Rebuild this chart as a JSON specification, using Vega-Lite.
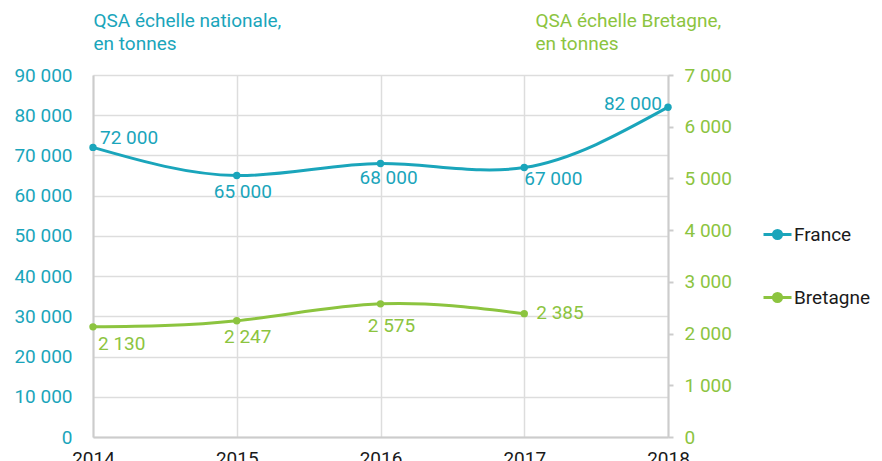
{
  "$schema": "https://vega.github.io/schema/vega-lite/v6.json",
  "width": 575,
  "height": 362,
  "autosize": "none",
  "padding": {"left": 93, "top": 75, "right": 214, "bottom": 24},
  "background": "white",
  "config": {
    "locale": {"number": {"decimal": ",", "thousands": " ", "grouping": [3], "currency": ["", " €"]}},
    "font": "Roboto",
    "view": {"stroke": null},
    "axis": {
      "labelFont": "Roboto", "titleFont": "Roboto", "labelFontSize": 19, "titleFontSize": 19,
      "titleFontWeight": "normal", "domainColor": "#cccccc", "domainWidth": 2,
      "gridColor": "#dddddd", "gridWidth": 1.5, "tickColor": "#cccccc", "tickWidth": 2
    },
    "text": {"font": "Roboto", "fontSize": 19, "baseline": "middle"}
  },
  "data": {"values": [
    {"year": 2014, "series": "France", "value": 72000},
    {"year": 2015, "series": "France", "value": 65000},
    {"year": 2016, "series": "France", "value": 68000},
    {"year": 2017, "series": "France", "value": 67000},
    {"year": 2018, "series": "France", "value": 82000},
    {"year": 2014, "series": "Bretagne", "value": 2130},
    {"year": 2015, "series": "Bretagne", "value": 2247},
    {"year": 2016, "series": "Bretagne", "value": 2575},
    {"year": 2017, "series": "Bretagne", "value": 2385}
  ]},
  "encoding": {
    "x": {"field": "year", "type": "quantitative", "scale": {"domain": [2014, 2018], "nice": false},
      "axis": {"values": [2014, 2015, 2016, 2017, 2018], "format": "d", "title": null, "ticks": false,
        "grid": true, "labelColor": "#1a1a1a", "labelPadding": 12, "labelBaseline": "top", "labelFlush": false}}
  },
  "layer": [
    {
      "transform": [{"filter": "datum.series === 'France'"}],
      "encoding": {
        "y": {"field": "value", "type": "quantitative", "scale": {"domain": [0, 90000], "nice": false},
          "axis": {"orient": "left", "values": [0, 10000, 20000, 30000, 40000, 50000, 60000, 70000, 80000, 90000],
            "format": ",d", "grid": true, "ticks": false, "labelPadding": 21, "labelColor": "#1aa5bb",
            "title": ["QSA échelle nationale,", "en tonnes"], "titleColor": "#1aa5bb", "titleAngle": 0,
            "titleAlign": "left", "titleBaseline": "alphabetic", "titleX": 0, "titleY": -49, "titleLineHeight": 23}}
      },
      "layer": [
        {"mark": {"type": "line", "interpolate": "natural", "strokeWidth": 3},
          "encoding": {"color": {"field": "series", "type": "nominal",
            "scale": {"domain": ["France", "Bretagne"], "range": ["#1aa5bb", "#8cc43f"]},
            "legend": {"orient": "none", "legendX": 669, "legendY": 144, "title": null, "padding": 0,
              "symbolType": "M-1,0L1,0M0.29,0A0.29,0.29,0,1,1,-0.29,0A0.29,0.29,0,1,1,0.29,0Z",
              "symbolSize": 784, "symbolStrokeWidth": 3, "labelFont": "Roboto", "labelFontSize": 19,
              "labelColor": "#1a1a1a", "rowPadding": 37, "labelOffset": 1,
              "encode": {"symbols": {"update": {"fill": {"scale": "color", "field": "value"}, "stroke": {"scale": "color", "field": "value"}}}}}}}},
        {"mark": {"type": "point", "filled": true, "size": 55, "opacity": 1, "color": "#1aa5bb"}},
        {"transform": [{"filter": "datum.year === 2014"}],
          "mark": {"type": "text", "align": "left", "dx": 7, "dy": -9, "color": "#1aa5bb"},
          "encoding": {"text": {"field": "value", "type": "quantitative", "format": ",d"}}},
        {"transform": [{"filter": "datum.year === 2015"}],
          "mark": {"type": "text", "align": "center", "dx": 6, "dy": 16, "color": "#1aa5bb"},
          "encoding": {"text": {"field": "value", "type": "quantitative", "format": ",d"}}},
        {"transform": [{"filter": "datum.year === 2016"}],
          "mark": {"type": "text", "align": "center", "dx": 8, "dy": 15, "color": "#1aa5bb"},
          "encoding": {"text": {"field": "value", "type": "quantitative", "format": ",d"}}},
        {"transform": [{"filter": "datum.year === 2017"}],
          "mark": {"type": "text", "align": "left", "dx": 0, "dy": 11, "color": "#1aa5bb"},
          "encoding": {"text": {"field": "value", "type": "quantitative", "format": ",d"}}},
        {"transform": [{"filter": "datum.year === 2018"}],
          "mark": {"type": "text", "align": "right", "dx": -6, "dy": -3, "color": "#1aa5bb"},
          "encoding": {"text": {"field": "value", "type": "quantitative", "format": ",d"}}}
      ]
    },
    {
      "transform": [{"filter": "datum.series === 'Bretagne'"}],
      "encoding": {
        "y": {"field": "value", "type": "quantitative", "scale": {"domain": [0, 7000], "nice": false},
          "axis": {"orient": "right", "values": [0, 1000, 2000, 3000, 4000, 5000, 6000, 7000],
            "format": ",d", "grid": false, "ticks": true, "tickSize": 5, "labelPadding": 11, "labelColor": "#8cc43f",
            "title": ["QSA échelle Bretagne,", "en tonnes"], "titleColor": "#8cc43f", "titleAngle": 0,
            "titleAlign": "left", "titleBaseline": "alphabetic", "titleX": -133, "titleY": -49, "titleLineHeight": 23}}
      },
      "layer": [
        {"mark": {"type": "line", "interpolate": "natural", "strokeWidth": 3},
          "encoding": {"color": {"field": "series", "type": "nominal"}}},
        {"mark": {"type": "point", "filled": true, "size": 55, "opacity": 1, "color": "#8cc43f"}},
        {"transform": [{"filter": "datum.year === 2014"}],
          "mark": {"type": "text", "align": "left", "dx": 5, "dy": 17, "color": "#8cc43f"},
          "encoding": {"text": {"field": "value", "type": "quantitative", "format": ",d"}}},
        {"transform": [{"filter": "datum.year === 2015"}],
          "mark": {"type": "text", "align": "center", "dx": 11, "dy": 16, "color": "#8cc43f"},
          "encoding": {"text": {"field": "value", "type": "quantitative", "format": ",d"}}},
        {"transform": [{"filter": "datum.year === 2016"}],
          "mark": {"type": "text", "align": "center", "dx": 11, "dy": 22, "color": "#8cc43f"},
          "encoding": {"text": {"field": "value", "type": "quantitative", "format": ",d"}}},
        {"transform": [{"filter": "datum.year === 2017"}],
          "mark": {"type": "text", "align": "left", "dx": 12, "dy": -1, "color": "#8cc43f"},
          "encoding": {"text": {"field": "value", "type": "quantitative", "format": ",d"}}}
      ]
    }
  ],
  "resolve": {"scale": {"y": "independent"}}
}
